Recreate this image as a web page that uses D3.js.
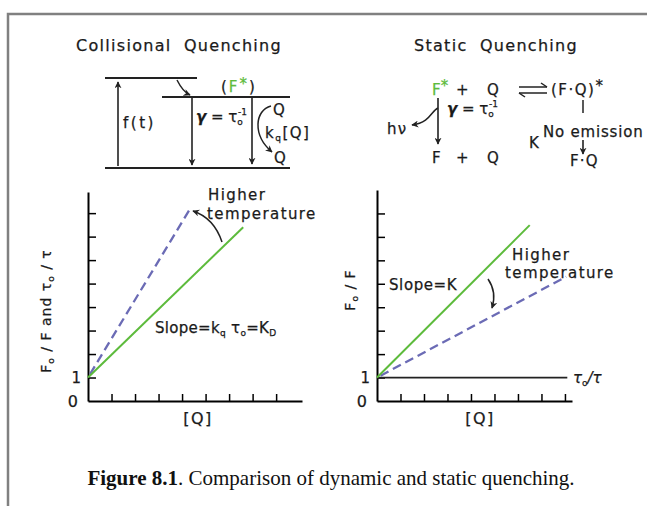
<!DOCTYPE html>
<html>
<head>
<meta charset="utf-8">
<script src="https://cdn.jsdelivr.net/npm/d3@7"></script>
<style>
  body { margin: 0; background: #fff; }
  svg text { font-family: "DejaVu Sans", sans-serif; fill: #1a1a1a; stroke: #1a1a1a; stroke-width: 0.25; }
  svg text.cap { stroke: none; fill: #111; }
</style>
</head>
<body>
<svg id="fig" width="647" height="506"></svg>
<script>
// data (arbitrary units)
const tickValues = [1, 2, 3, 4, 5, 6, 7, 8];
const collisionalSolid = [[0, 1], [6.6, 7.4]];
const collisionalDashed = [[0, 1], [4.35, 8.2]];
const staticSolid = [[0, 1], [6.5, 7.5]];
const staticDashed = [[0, 1], [8.05, 5.3]];
const lifetimeRatio = [[0, 1], [8.1, 1]];

const green = "#5dbb3c";
const blue = "#6b6bb5";

const svg = d3.select("#fig");

// arrow heads
svg.append("defs").append("marker")
  .attr("id", "head")
  .attr("viewBox", "0 0 10 10")
  .attr("refX", 9).attr("refY", 5)
  .attr("markerWidth", 7).attr("markerHeight", 7)
  .attr("markerUnits", "userSpaceOnUse")
  .attr("orient", "auto")
  .append("path").attr("d", "M0,0 L10,5 L0,10 L3,5 Z").attr("fill", "#222");

// frame
svg.append("path").attr("d", "M8,506 L8,14 L647,14")
  .attr("fill", "none").attr("stroke", "#808080").attr("stroke-width", 2.5);

function txt(x, y, s, size, anchor, ls) {
  return svg.append("text").attr("x", x).attr("y", y)
    .attr("font-size", size || 15).attr("text-anchor", anchor || "start")
    .attr("letter-spacing", ls == null ? 1.2 : ls).text(s);
}
function line(pts, arrow, w) {
  const p = svg.append("path").attr("d", d3.line()(pts))
    .attr("fill", "none").attr("stroke", "#222").attr("stroke-width", w || 1.6);
  if (arrow) p.attr("marker-end", "url(#head)");
  return p;
}
function curve(d, arrow) {
  const p = svg.append("path").attr("d", d)
    .attr("fill", "none").attr("stroke", "#222").attr("stroke-width", 1.5);
  if (arrow) p.attr("marker-end", "url(#head)");
  return p;
}
function gammaLabel(x, y) {
  const t = svg.append("text").attr("x", x).attr("y", y).attr("font-size", 15);
  t.append("tspan").attr("font-style", "italic").attr("font-weight", "bold").text("γ");
  t.append("tspan").text(" = τ");
  t.append("tspan").attr("font-size", 9).attr("dy", 3).text("o");
  t.append("tspan").attr("font-size", 9).attr("dx", -5).attr("dy", -10).text("-1");
}

// ---------- top left diagram ----------
txt(179, 51, "Collisional  Quenching", 16, "middle", 1.3).attr("word-spacing", 6);
line([[105, 78], [197, 78]], false, 1.8);
line([[162, 97], [290, 97]], false, 1.8);
line([[105, 168], [290, 168]], false, 1.8);
curve("M177,80 Q183,92 190,95", true);
line([[118, 166], [118, 82]], true);
line([[192, 98], [192, 165]], true);
line([[252, 98], [252, 164]], true);
txt(123, 128, "f(t)", 15, "start", 2.5);
gammaLabel(196, 122);
const fstar = svg.append("text").attr("x", 221).attr("y", 92).attr("font-size", 15).attr("letter-spacing", 2);
fstar.append("tspan").text("(");
fstar.append("tspan").style("fill", green).style("stroke", green).text("F");
fstar.append("tspan").style("fill", green).style("stroke", green).attr("dy", -3).text("*");
fstar.append("tspan").attr("dy", 3).text(")");
curve("M271,106 C255,110 252,135 272,152", true);
txt(273, 115, "Q", 15);
const kq = svg.append("text").attr("x", 265).attr("y", 138).attr("font-size", 15).attr("letter-spacing", 1.5);
kq.append("tspan").text("k");
kq.append("tspan").attr("font-size", 9).attr("dy", 3).text("q");
kq.append("tspan").attr("dy", -3).text("[Q]");
txt(274, 163, "Q", 15);

// ---------- top right diagram ----------
txt(496, 51, "Static  Quenching", 16, "middle", 1.3).attr("word-spacing", 6);
const fs2 = svg.append("text").attr("x", 432).attr("y", 95).attr("font-size", 15);
fs2.append("tspan").style("fill", green).style("stroke", green).text("F");
fs2.append("tspan").style("fill", green).style("stroke", green).attr("dy", -4).text("*");
txt(463, 95, "+", 15, "middle");
txt(487, 95, "Q", 15);
line([[519, 87], [547, 87]], false, 1.5);
line([[541, 83], [547, 87]], false, 1.5);
line([[519, 93], [547, 93]], false, 1.5);
line([[525, 97], [519, 93]], false, 1.5);
const fq = svg.append("text").attr("x", 551).attr("y", 95).attr("font-size", 15).attr("letter-spacing", 1.5);
fq.append("tspan").text("(F·Q)");
fq.append("tspan").attr("dy", -4).text("*");
line([[438, 98], [438, 144]], true);
curve("M438,108 C431,111 431,122 412,125", true);
txt(387, 134, "hν", 15);
gammaLabel(447, 114);
txt(432, 163, "F", 15);
txt(463, 163, "+", 15, "middle");
txt(487, 163, "Q", 15);
line([[583, 100], [583, 113]], false, 1.5);
txt(543, 137, "No emission", 15, "start", 0.8);
line([[583, 140], [583, 154]], true);
txt(529, 148, "K", 15);
txt(570, 166, "F·Q", 15);

// ---------- bottom charts ----------
function chart(opt) {
  const x = d3.scaleLinear().domain(opt.xDomain).range(opt.xRange);
  const y = d3.scaleLinear().domain(opt.yDomain).range([401, opt.yTop]);
  const g = svg.append("g");

  g.append("g").attr("transform", `translate(0,${y(0)})`)
    .call(d3.axisBottom(x).tickValues(tickValues).tickSize(-7).tickSizeOuter(0).tickFormat(""))
    .call(a => a.select(".domain").attr("stroke-width", 2))
    .call(a => a.selectAll(".tick line").attr("stroke-width", 1.5));
  g.append("g").attr("transform", `translate(${x(0)},0)`)
    .call(d3.axisLeft(y).tickValues(tickValues).tickSize(-8).tickSizeOuter(0).tickFormat(""))
    .call(a => a.select(".domain").attr("stroke-width", 2))
    .call(a => a.selectAll(".tick line").attr("stroke-width", 1.5));

  const ln = d3.line().x(d => x(d[0])).y(d => y(d[1]));
  (opt.extra || []).forEach(d => {
    g.append("path").attr("d", ln(d)).attr("fill", "none").attr("stroke", "#222").attr("stroke-width", 1.8);
  });
  g.append("path").attr("d", ln(opt.dashed)).attr("fill", "none")
    .attr("stroke", blue).attr("stroke-width", 2.3).attr("stroke-dasharray", "9,5")
    .attr("stroke-dashoffset", -4);
  g.append("path").attr("d", ln(opt.solid)).attr("fill", "none")
    .attr("stroke", green).attr("stroke-width", 2);

  g.append("text").attr("x", x(0) - 7).attr("y", y(1) + 5).attr("font-size", 15)
    .attr("text-anchor", "end").text("1");
  g.append("text").attr("x", x(0) - 10).attr("y", y(0) + 6).attr("font-size", 16)
    .attr("text-anchor", "end").text("0");
  g.append("text").attr("x", opt.qx).attr("y", 424).attr("font-size", 16)
    .attr("text-anchor", "middle").attr("letter-spacing", 1.5).text("[Q]");
  return { x, y };
}

// collisional
chart({
  xDomain: [0, 9.1], xRange: [88, 302], yDomain: [0, 8.9], yTop: 192,
  solid: collisionalSolid, dashed: collisionalDashed, qx: 198
});
const yl = svg.append("text").attr("transform", "translate(51,311) rotate(-90)")
  .attr("text-anchor", "middle").attr("font-size", 14).attr("letter-spacing", 1);
yl.append("tspan").text("F");
yl.append("tspan").attr("font-size", 9).attr("dy", 3).text("o");
yl.append("tspan").attr("dy", -3).text(" / F  and  τ");
yl.append("tspan").attr("font-size", 9).attr("dy", 3).text("o");
yl.append("tspan").attr("dy", -3).text(" / τ");
txt(208, 200, "Higher", 15, "start", 1.4);
txt(207, 219, "temperature", 15, "start", 1.4);
curve("M222,242 Q214,218 193,211", true);
const sl = svg.append("text").attr("x", 155).attr("y", 333).attr("font-size", 15).attr("letter-spacing", 0.3);
sl.append("tspan").text("Slope=k");
sl.append("tspan").attr("font-size", 9).attr("dy", 3).text("q");
sl.append("tspan").attr("dy", -3).text(" τ");
sl.append("tspan").attr("font-size", 9).attr("dy", 3).text("o");
sl.append("tspan").attr("dy", -3).text("=K");
sl.append("tspan").attr("font-size", 9).attr("dy", 3).text("D");

// static
chart({
  xDomain: [0, 8.3], xRange: [377, 572], yDomain: [0, 9.0], yTop: 190,
  solid: staticSolid, dashed: staticDashed, extra: [lifetimeRatio], qx: 480
});
const yr = svg.append("text").attr("transform", "translate(355,290) rotate(-90)")
  .attr("text-anchor", "middle").attr("font-size", 14).attr("letter-spacing", 1);
yr.append("tspan").text("F");
yr.append("tspan").attr("font-size", 9).attr("dy", 3).text("o");
yr.append("tspan").attr("dy", -3).text(" / F");
const tr = svg.append("text").attr("x", 573).attr("y", 383).attr("font-size", 15);
tr.append("tspan").attr("font-style", "italic").text("τ");
tr.append("tspan").attr("font-size", 9).attr("dy", 3).text("o");
tr.append("tspan").attr("font-style", "italic").attr("dy", -3).text("/τ");
txt(389, 290, "Slope=K", 15, "start", 0.6);
txt(512, 260, "Higher", 15, "start", 1.4);
txt(505, 278, "temperature", 15, "start", 1.4);
curve("M488,279 Q497,292 492,308", true);

// caption
const cap = svg.append("text").attr("class", "cap").attr("x", 331).attr("y", 485).attr("text-anchor", "middle")
  .style("font-family", "'Liberation Serif', 'Times New Roman', serif").attr("font-size", 21);
cap.append("tspan").attr("font-weight", "bold").text("Figure 8.1");
cap.append("tspan").text(". Comparison of dynamic and static quenching.");
</script>
</body>
</html>
